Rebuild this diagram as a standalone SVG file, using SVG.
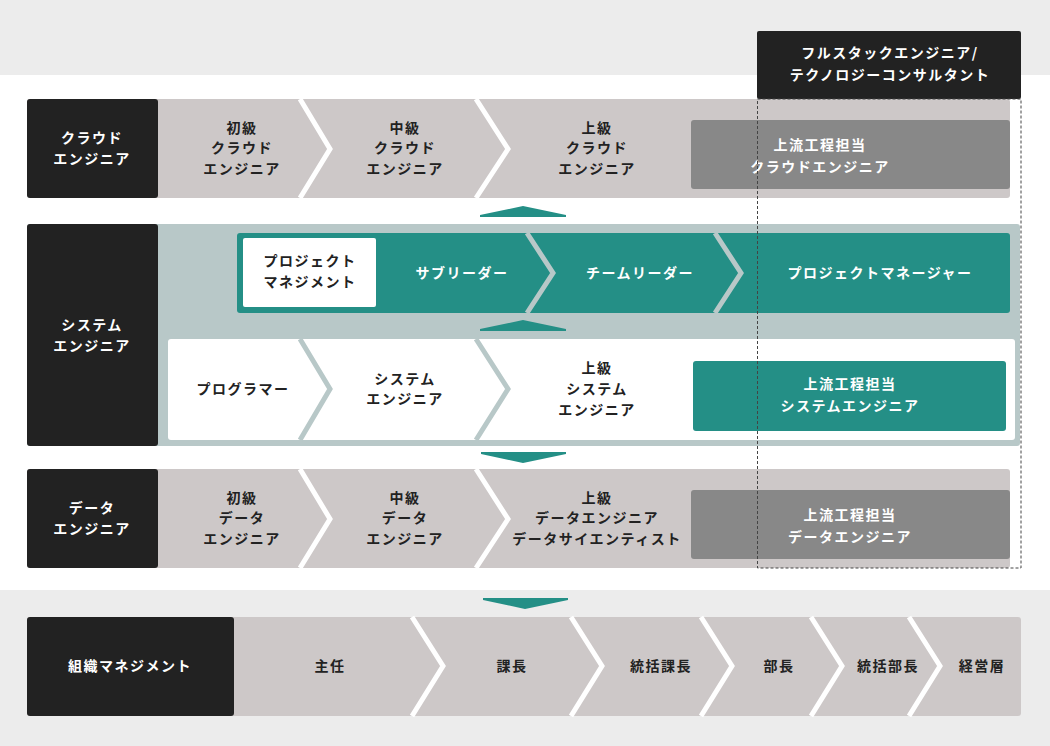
<svg xmlns="http://www.w3.org/2000/svg" width="1050" height="746" viewBox="0 0 1050 746">
<style>
text{font-family:"Noto Sans CJK JP","Noto Sans",sans-serif;font-weight:bold;font-size:14px;text-anchor:middle;letter-spacing:1.5px}
.d{fill:#222}.w{fill:#fff}
.sepw{fill:none;stroke:#fff;stroke-width:5}
.sepg{fill:none;stroke:#b8c8c8;stroke-width:5}
.tri{fill:#248f86}
</style>
<rect width="1050" height="746" fill="#ececec"/>
<rect x="0" y="75" width="1050" height="515" fill="#fff"/>
<g id="cloud">
<rect x="27" y="99" width="983" height="99" rx="3" fill="#cdc8c8"/>
<rect x="27" y="99" width="131" height="99" rx="3" fill="#222"/>
<path class="sepw" d="M300,99 L330,149 L300,198 M476,99 L508,149 L476,198"/>
<rect x="691" y="120" width="319" height="69" rx="3" fill="#888"/>
<text class="w" x="92" y="143">クラウド</text><text class="w" x="92" y="164">エンジニア</text>
<text class="d" x="242" y="133">初級</text><text class="d" x="242" y="153">クラウド</text><text class="d" x="242" y="174">エンジニア</text>
<text class="d" x="405" y="133">中級</text><text class="d" x="405" y="153">クラウド</text><text class="d" x="405" y="174">エンジニア</text>
<text class="d" x="597" y="133">上級</text><text class="d" x="597" y="153">クラウド</text><text class="d" x="597" y="174">エンジニア</text>
<text class="w" x="820" y="150">上流工程担当</text><text class="w" x="820" y="172">クラウドエンジニア</text>
</g>
<g id="system">
<rect x="27" y="224" width="993" height="222" rx="3" fill="#b8c8c8"/>
<rect x="27" y="224" width="131" height="222" rx="3" fill="#222"/>
<rect x="237" y="233" width="773" height="80" rx="3" fill="#248f86"/>
<path class="sepg" d="M527,233 L553,273 L527,313 M715,233 L741,273 L715,313" stroke="#b8c8c8"/>
<rect x="243" y="238" width="133" height="69" rx="2" fill="#fff"/>
<rect x="168" y="339" width="847" height="101" rx="3" fill="#fff"/>
<path class="sepg" d="M300,339 L330,389 L300,440 M476,339 L508,389 L476,440"/>
<rect x="693" y="361" width="313" height="70" rx="3" fill="#248f86"/>
<text class="w" x="92" y="330">システム</text><text class="w" x="92" y="351">エンジニア</text>
<text class="d" x="310" y="266">プロジェクト</text><text class="d" x="310" y="287">マネジメント</text>
<text class="w" x="462" y="278">サブリーダー</text>
<text class="w" x="640" y="278">チームリーダー</text>
<text class="w" x="880" y="278">プロジェクトマネージャー</text>
<text class="d" x="243" y="394">プログラマー</text>
<text class="d" x="405" y="384">システム</text><text class="d" x="405" y="404">エンジニア</text>
<text class="d" x="597" y="373">上級</text><text class="d" x="597" y="394">システム</text><text class="d" x="597" y="415">エンジニア</text>
<text class="w" x="850" y="389">上流工程担当</text><text class="w" x="850" y="411">システムエンジニア</text>
</g>
<g id="data">
<rect x="27" y="469" width="983" height="99" rx="3" fill="#cdc8c8"/>
<rect x="27" y="469" width="131" height="99" rx="3" fill="#222"/>
<path class="sepw" d="M300,469 L330,519 L300,568 M476,469 L508,519 L476,568"/>
<rect x="691" y="490" width="319" height="69" rx="3" fill="#888"/>
<text class="w" x="92" y="513">データ</text><text class="w" x="92" y="534">エンジニア</text>
<text class="d" x="242" y="503">初級</text><text class="d" x="242" y="523">データ</text><text class="d" x="242" y="544">エンジニア</text>
<text class="d" x="405" y="503">中級</text><text class="d" x="405" y="523">データ</text><text class="d" x="405" y="544">エンジニア</text>
<text class="d" x="597" y="503">上級</text><text class="d" x="597" y="523">データエンジニア</text><text class="d" x="597" y="544">データサイエンティスト</text>
<text class="w" x="850" y="520">上流工程担当</text><text class="w" x="850" y="542">データエンジニア</text>
</g>
<g id="fullstack">
<rect x="757" y="31" width="264" height="68" rx="2" fill="#222"/>
<rect x="757.5" y="99" width="263.5" height="469" fill="none" stroke="#444" stroke-width="1" stroke-dasharray="3,2"/>
<text class="w" x="890" y="58">フルスタックエンジニア/</text><text class="w" x="890" y="80">テクノロジーコンサルタント</text>
</g>
<g id="org">
<rect x="27" y="617" width="994" height="99" rx="3" fill="#cdc8c8"/>
<rect x="27" y="617" width="207" height="99" rx="3" fill="#222"/>
<path class="sepw" d="M412,617 L443,666 L412,716 M571,617 L602,666 L571,716 M701,617 L732,666 L701,716 M811,617 L842,666 L811,716 M909,617 L940,666 L909,716"/>
<text class="w" x="130" y="671">組織マネジメント</text>
<text class="d" x="330" y="671">主任</text>
<text class="d" x="512" y="671">課長</text>
<text class="d" x="661" y="671">統括課長</text>
<text class="d" x="779" y="671">部長</text>
<text class="d" x="888" y="671">統括部長</text>
<text class="d" x="982" y="671">経営層</text>
</g>
<g id="connectors">
<path class="tri" d="M480,217 L566,217 L566,215 L523,206 L480,215 Z"/>
<path class="tri" d="M480,331 L566,331 L566,329 L523,320 L480,329 Z"/>
<path class="tri" d="M481,452 L566,452 L566,454 L523,463 L481,454 Z"/>
<path class="tri" d="M483,598 L568,598 L568,600 L525,609 L483,600 Z"/>
</g>
</svg>
